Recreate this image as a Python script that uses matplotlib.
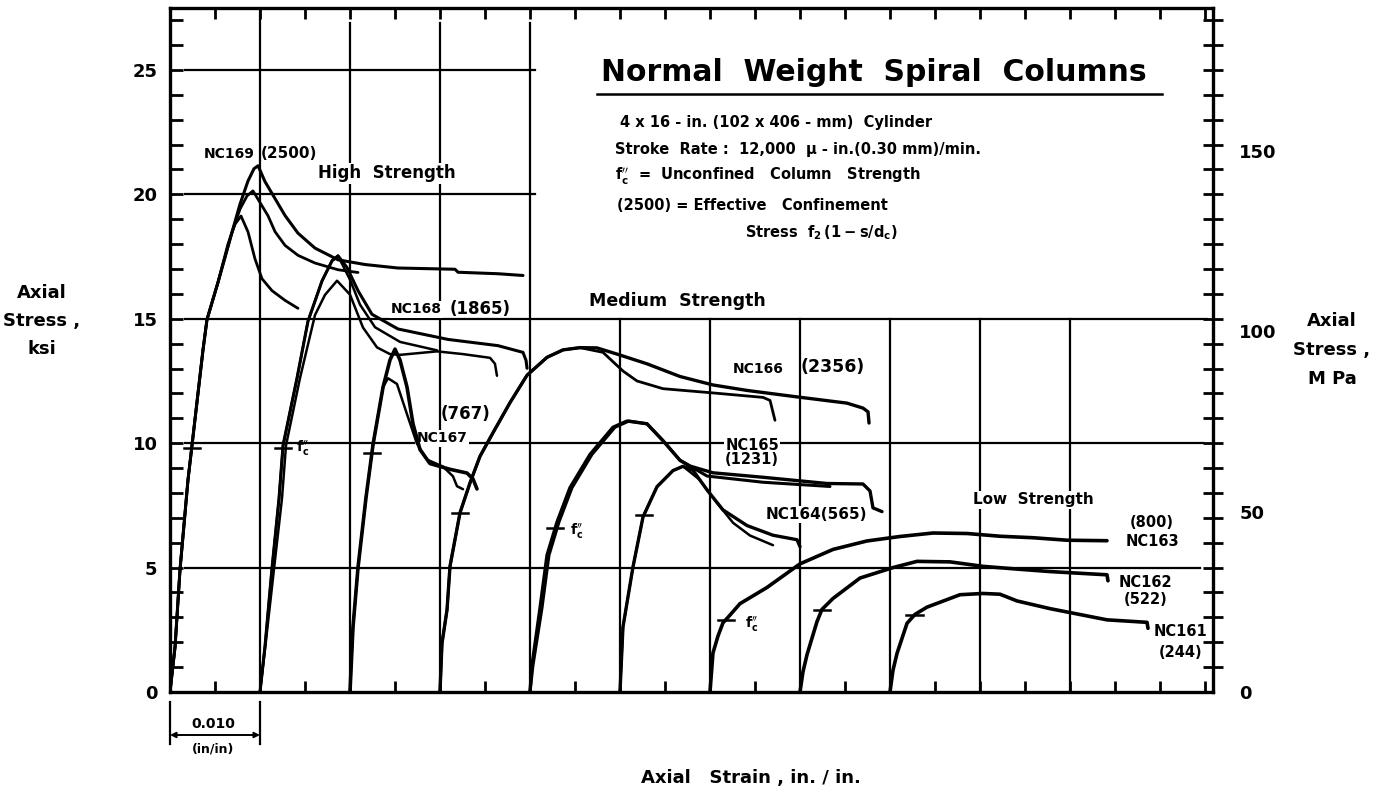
import numpy as np
import matplotlib
matplotlib.use("Agg")
import matplotlib.pyplot as plt
from matplotlib import transforms
from matplotlib.ticker import FixedLocator

plt.rcParams['font.family'] = ['DejaVu Sans']
plt.rcParams['font.weight'] = 'bold'
plt.rcParams['mathtext.fontset'] = 'dejavusans'
plt.rcParams['mathtext.default'] = 'bf'

KSI_TO_MPA = 6.895

# ---------------------------------------------------------------- data
specimens = ["NC169", "NC168", "NC167", "NC166", "NC165",
             "NC164", "NC163", "NC162", "NC161"]
confinement_psi = ["2500", "1865", "767", "2356", "1231",
                   "565", "800", "522", "244"]
# each specimen's curve starts at its own strain origin (in./in.)
origin_strain = [0.000, 0.010, 0.020, 0.030, 0.040, 0.050, 0.060, 0.070, 0.080]
# unconfined column strength f''c (ksi)
fc_ksi = [9.8, 9.8, 9.6, 7.2, 6.6, 7.1, 2.9, 3.3, 3.1]

# stress-strain records: strain from the specimen origin, stress in ksi
nc169_a_strain = [0.0, 0.00056, 0.00111, 0.0020, 0.00244, 0.00367, 0.00411, 0.00533, 0.00689,
                  0.00778, 0.00867, 0.00933, 0.00978, 0.01056, 0.01167, 0.01278, 0.01422,
                  0.01611, 0.01867, 0.02167, 0.02533, 0.03167, 0.0320, 0.03644, 0.03922]
nc169_a_ksi = [0.0, 1.81, 4.91, 8.53, 9.90, 13.76, 14.97, 16.46, 18.48, 19.61, 20.54, 21.03,
               21.15, 20.51, 19.83, 19.15, 18.44, 17.84, 17.37, 17.18, 17.04, 16.99, 16.87,
               16.81, 16.74]
nc169_b_strain = [0.0, 0.00056, 0.00111, 0.0020, 0.00244, 0.00367, 0.00411, 0.00533, 0.00689,
                  0.00778, 0.00856, 0.00922, 0.01022, 0.01089, 0.01167, 0.01278, 0.01422,
                  0.01611, 0.01867, 0.02089]
nc169_b_ksi = [0.0, 1.81, 4.91, 8.53, 9.90, 13.76, 14.97, 16.46, 18.48, 19.41, 19.94, 20.14,
               19.54, 19.14, 18.50, 17.95, 17.55, 17.24, 16.97, 16.86]
nc169_c_strain = [0.0, 0.00056, 0.00111, 0.0020, 0.00244, 0.00367, 0.00411, 0.00533, 0.00644,
                  0.00722, 0.00789, 0.00867, 0.00944, 0.01022, 0.01133, 0.01278, 0.01422]
nc169_c_ksi = [0.0, 1.81, 4.91, 8.53, 9.90, 13.76, 14.97, 16.46, 18.0, 18.8, 19.13, 18.49,
               17.41, 16.61, 16.13, 15.74, 15.42]

nc168_a_strain = [0.0, 0.00056, 0.00133, 0.00211, 0.00256, 0.00411, 0.00533, 0.00689, 0.008,
                  0.00867, 0.00967, 0.01089, 0.01244, 0.01533, 0.02089, 0.02644, 0.02922,
                  0.02956, 0.02967]
nc168_a_ksi = [0.0, 1.86, 4.96, 7.77, 9.91, 12.61, 14.90, 16.52, 17.33, 17.53, 17.06, 16.13,
               15.18, 14.59, 14.17, 13.92, 13.65, 13.33, 13.01]
nc168_b_strain = [0.0, 0.00056, 0.00133, 0.00211, 0.00256, 0.00411, 0.00533, 0.00689, 0.008,
                  0.00867, 0.01, 0.01111, 0.01278, 0.01556, 0.01967]
nc168_b_ksi = [0.0, 1.86, 4.96, 7.77, 9.91, 12.61, 14.90, 16.52, 17.33, 17.53, 16.57, 15.57,
               14.66, 14.07, 13.73]
nc168_c_strain = [0.0, 0.0006, 0.00156, 0.00244, 0.00289, 0.00444, 0.00611, 0.00722, 0.00856,
                  0.01, 0.01144, 0.013, 0.01444, 0.01556, 0.01967, 0.02256, 0.02556, 0.02611,
                  0.02633]
nc168_c_ksi = [0.0, 1.86, 4.96, 7.77, 9.91, 12.61, 15.15, 15.96, 16.53, 15.97, 14.65, 13.85,
               13.58, 13.55, 13.69, 13.58, 13.43, 13.19, 12.71]

nc167_a_strain = [0.0, 0.00033, 0.00089, 0.00178, 0.00256, 0.00367, 0.00444, 0.005, 0.00556,
                  0.00633, 0.007, 0.00778, 0.00889, 0.01111, 0.013, 0.01367, 0.01411]
nc167_a_ksi = [0.0, 2.59, 5.0, 7.82, 9.95, 12.25, 13.34, 13.78, 13.34, 12.26, 10.78, 9.74,
               9.18, 8.95, 8.80, 8.56, 8.16]
nc167_b_strain = [0.0, 0.00033, 0.00089, 0.00178, 0.00256, 0.00367, 0.00422, 0.00522, 0.00633,
                  0.00744, 0.00856, 0.01033, 0.01144, 0.01189, 0.01256]
nc167_b_ksi = [0.0, 2.59, 5.0, 7.82, 9.95, 12.25, 12.61, 12.38, 11.17, 9.98, 9.34, 9.06,
               8.67, 8.27, 8.15]

nc166_a_strain = [0.0, 0.00022, 0.00078, 0.00111, 0.00222, 0.00333, 0.00444, 0.00589, 0.00778,
                  0.00967, 0.01189, 0.01367, 0.01556, 0.01744, 0.01967, 0.023, 0.02667,
                  0.03033, 0.03411, 0.03967, 0.04522, 0.047, 0.04756, 0.04767]
nc166_a_ksi = [0.0, 1.95, 3.3, 5.05, 7.2, 8.4, 9.47, 10.42, 11.63, 12.73, 13.45, 13.75, 13.84,
               13.83, 13.58, 13.19, 12.68, 12.34, 12.12, 11.86, 11.61, 11.41, 11.26, 10.81]
nc166_b_strain = [0.0, 0.00022, 0.00078, 0.00111, 0.00222, 0.00333, 0.00444, 0.00589, 0.00778,
                  0.00967, 0.01189, 0.01367, 0.01556, 0.01811, 0.02033, 0.02189, 0.02478,
                  0.03033, 0.03589, 0.03667, 0.037, 0.03722]
nc166_b_ksi = [0.0, 1.95, 3.3, 5.05, 7.2, 8.4, 9.47, 10.42, 11.63, 12.73, 13.45, 13.75, 13.84,
               13.65, 12.9, 12.5, 12.19, 12.02, 11.84, 11.72, 11.24, 10.92]

nc165_a_strain = [0.0, 0.00022, 0.00111, 0.00189, 0.003, 0.00444, 0.00667, 0.00922, 0.01078,
                  0.013, 0.01478, 0.01667, 0.01778, 0.02033, 0.02589, 0.033, 0.037, 0.03778,
                  0.03811, 0.03911]
nc165_a_ksi = [0.0, 1.07, 3.37, 5.5, 6.83, 8.21, 9.55, 10.64, 10.89, 10.78, 10.1, 9.31, 9.08,
               8.81, 8.63, 8.38, 8.36, 8.08, 7.40, 7.25]
nc165_b_strain = [0.0, 0.00033, 0.00133, 0.00211, 0.00322, 0.00467, 0.00689, 0.00944, 0.011,
                  0.013, 0.01478, 0.01667, 0.01778, 0.01967, 0.02589, 0.03333]
nc165_b_ksi = [0.0, 1.07, 3.37, 5.5, 6.83, 8.21, 9.55, 10.64, 10.89, 10.78, 10.1, 9.31, 9.08,
               8.68, 8.43, 8.26]

nc164_a_strain = [0.0, 0.00033, 0.00144, 0.00256, 0.00411, 0.00589, 0.007, 0.00811, 0.00967,
                  0.01144, 0.01411, 0.017, 0.01967, 0.02]
nc164_a_ksi = [0.0, 2.61, 5.02, 7.04, 8.25, 8.9, 9.07, 8.91, 8.12, 7.32, 6.69, 6.30, 6.12, 5.84]
nc164_b_strain = [0.0, 0.00033, 0.00144, 0.00256, 0.00411, 0.00589, 0.007, 0.00889, 0.01078,
                  0.01256, 0.01444, 0.017]
nc164_b_ksi = [0.0, 2.61, 5.02, 7.04, 8.25, 8.9, 9.07, 8.52, 7.6, 6.8, 6.29, 5.9]

nc163_strain = [0.0, 0.00033, 0.00089, 0.00144, 0.002, 0.00333, 0.00633, 0.01, 0.01367,
                0.01744, 0.02111, 0.02478, 0.02856, 0.03222, 0.03589, 0.03967, 0.04411]
nc163_ksi = [0.0, 1.57, 2.25, 2.78, 3.0, 3.55, 4.2, 5.15, 5.73, 6.07, 6.25, 6.39, 6.37, 6.26,
             6.2, 6.1, 6.08]

nc162_strain = [0.0, 0.00033, 0.00078, 0.00189, 0.00244, 0.00367, 0.00667, 0.01033, 0.013,
                0.01667, 0.02033, 0.02411, 0.02778, 0.03411, 0.03422]
nc162_ksi = [0.0, 0.81, 1.5, 2.83, 3.32, 3.76, 4.58, 5.0, 5.25, 5.23, 5.05, 4.94, 4.84, 4.71,
             4.47]

nc161_strain = [0.0, 0.00033, 0.00078, 0.00189, 0.00278, 0.00411, 0.00778, 0.01033, 0.01222,
                0.01411, 0.01778, 0.02144, 0.02411, 0.02856, 0.02867]
nc161_ksi = [0.0, 0.87, 1.55, 2.76, 3.12, 3.41, 3.91, 3.96, 3.93, 3.66, 3.35, 3.09, 2.9, 2.8,
             2.56]

# (specimen index, strain, stress, line width) for every plotted record
curves = [
    (0, nc169_a_strain, nc169_a_ksi, 2.2), (0, nc169_b_strain, nc169_b_ksi, 2.0),
    (0, nc169_c_strain, nc169_c_ksi, 2.0),
    (1, nc168_a_strain, nc168_a_ksi, 2.2), (1, nc168_b_strain, nc168_b_ksi, 1.8),
    (1, nc168_c_strain, nc168_c_ksi, 1.8),
    (2, nc167_a_strain, nc167_a_ksi, 2.6), (2, nc167_b_strain, nc167_b_ksi, 1.8),
    (3, nc166_a_strain, nc166_a_ksi, 2.4), (3, nc166_b_strain, nc166_b_ksi, 2.0),
    (4, nc165_a_strain, nc165_a_ksi, 2.4), (4, nc165_b_strain, nc165_b_ksi, 2.2),
    (5, nc164_a_strain, nc164_a_ksi, 2.4), (5, nc164_b_strain, nc164_b_ksi, 1.8),
    (6, nc163_strain, nc163_ksi, 2.6),
    (7, nc162_strain, nc162_ksi, 2.6),
    (8, nc161_strain, nc161_ksi, 2.6),
]

# ---------------------------------------------------------------- figure
W, H = 1395, 795
fig = plt.figure(figsize=(W / 100, H / 100), dpi=100)
ax = fig.add_axes([170 / W, 1 - 692 / H, 1043 / W, 684 / H])

X_MAX = 0.11589
Y_MAX = 27.49
ax.set_xlim(0, X_MAX)
ax.set_ylim(0, Y_MAX)

for sp in ax.spines.values():
    sp.set_linewidth(2.4)

# frame ticks
ax.set_xticks(np.arange(0.005, X_MAX, 0.005))
ax.tick_params(axis='x', which='both', top=True, bottom=True, direction='in',
               length=8, width=2, labelbottom=False)
ax.set_yticks(np.arange(0, 26, 5))
ax.yaxis.set_minor_locator(FixedLocator(np.arange(0, 28, 1)))
ax.tick_params(axis='y', which='both', direction='in', length=9, width=2,
               labelsize=13, pad=9)

# right-hand scale in MPa
ax2 = ax.twinx()
ax2.set_ylim(0, Y_MAX * KSI_TO_MPA)
ax2.set_yticks([0, 50, 100, 150])
ax2.yaxis.set_minor_locator(FixedLocator(np.arange(0, 28, 1) * KSI_TO_MPA))
ax2.tick_params(axis='y', which='major', length=0, labelsize=13, pad=19)
ax2.tick_params(axis='y', which='minor', direction='inout', length=14, width=2)
for sp in ax2.spines.values():
    sp.set_visible(False)

# reference grid
grid_kw = dict(color='black', lw=1.6, zorder=1)
for level, x_end in [(25, 0.0406), (20, 0.0406), (15, 0.1152), (10, 0.1148), (5, 0.1144)]:
    ax.plot([0.0017, x_end], [level, level], **grid_kw)
for xv in [0.01, 0.02, 0.03, 0.04]:
    ax.plot([xv, xv], [0, 26.9 if xv > 0.01 else Y_MAX], **grid_kw)
for xv in [0.05, 0.06, 0.07, 0.08, 0.09, 0.10]:
    ax.plot([xv, xv], [0, 15], **grid_kw)

# stress-strain curves
for spec, s, k, lw in curves:
    ax.plot(np.asarray(s) + origin_strain[spec], k, color='black', lw=lw,
            solid_capstyle='round', solid_joinstyle='round', zorder=4)

# f''c marks on the ascending branches
first_curve = {}
for spec, s, k, lw in curves:
    first_curve.setdefault(spec, (np.asarray(s), np.asarray(k)))
for i, fc in enumerate(fc_ksi):
    s, k = first_curve[i]
    peak = int(np.argmax(k))
    xc = np.interp(fc, k[:peak + 1], s[:peak + 1]) + origin_strain[i]
    ax.plot([xc - 0.0009, xc + 0.0009], [fc, fc], color='black', lw=1.8, zorder=4)

fc_sym = r"$f_c^{\prime\prime}$"
for xs, ys in [(0.01478, 9.8), (0.04522, 6.44), (0.06467, 2.72)]:
    ax.text(xs, ys, fc_sym, fontsize=10, ha='center', va='center', zorder=5)

# curve labels
white = dict(facecolor='white', edgecolor='none', pad=1.0)
lab = dict(fontsize=10, fontweight='bold', ha='center', va='center', zorder=3)
ax.text(0.00944, 21.63, specimens[0], **{**lab, 'ha': 'right'})
ax.text(0.01011, 21.63, f"({confinement_psi[0]})", **{**lab, 'ha': 'left', 'fontsize': 11})
ax.text(0.0302, 15.38, specimens[1], bbox=white, **{**lab, 'ha': 'right'})
ax.text(0.0311, 15.38, f"({confinement_psi[1]})", **{**lab, 'ha': 'left', 'fontsize': 12})
ax.text(0.03278, 11.17, f"({confinement_psi[2]})", **{**lab, 'fontsize': 12})
ax.text(0.03022, 10.19, specimens[2], bbox=white, **lab)
ax.text(0.06533, 13.0, specimens[3], **lab)
ax.text(0.07367, 13.05, f"({confinement_psi[3]})", **{**lab, 'fontsize': 12.5})
ax.text(0.06467, 9.62, f"{specimens[4]}\n({confinement_psi[4]})", bbox=white,
        linespacing=0.95, **{**lab, 'fontsize': 10.5})
ax.text(0.07178, 7.13, f"{specimens[5]}({confinement_psi[5]})", bbox=white,
        **{**lab, 'fontsize': 11})
ax.text(0.10911, 6.43, f"({confinement_psi[6]})\n{specimens[6]}", linespacing=1.3,
        **{**lab, 'fontsize': 10.5})
ax.text(0.1084, 4.05, f"{specimens[7]}\n({confinement_psi[7]})", linespacing=1.2,
        **{**lab, 'fontsize': 10.5})
ax.text(0.11233, 2.02, f"{specimens[8]}\n({confinement_psi[8]})", linespacing=1.5,
        **{**lab, 'fontsize': 10.5})

grp = dict(fontweight='bold', ha='center', va='center', zorder=3)
ax.text(0.02411, 20.85, "High  Strength", bbox=white, fontsize=12, **grp)
ax.text(0.05633, 15.7, "Medium  Strength", fontsize=12.5, **grp)
ax.text(0.09589, 7.73, "Low  Strength", bbox=white, fontsize=11, **grp)

# descriptive block
ax.text(0.0782, 24.9, "Normal  Weight  Spiral  Columns", fontsize=21.5, fontweight='bold',
        ha='center', va='center')
ax.plot([0.0474, 0.1102], [24.05, 24.05], color='black', lw=1.8)
box = dict(fontsize=10.5, fontweight='bold', ha='left', va='center')
ax.text(0.0500, 22.9, "4 x 16 - in. (102 x 406 - mm)  Cylinder", **box)
ax.text(0.0494, 21.82, "Stroke  Rate :  12,000  \u03bc - in.(0.30 mm)/min.", **box)
ax.text(0.0494, 20.70, fc_sym + "  =  Unconfined   Column   Strength", **box)
ax.text(0.0497, 19.57, "(2500) = Effective   Confinement", **box)
ax.text(0.0639, 18.47, r"Stress  $f_2\,(1-s/d_c)$", **box)

# axis titles
fig.text(42 / W, 1 - 321 / H, "Axial\nStress ,\nksi", fontsize=13, fontweight='bold',
         ha='center', va='center', linespacing=1.75)
fig.text(1332 / W, 1 - 350 / H, "Axial\nStress ,\nM Pa", fontsize=13, fontweight='bold',
         ha='center', va='center', linespacing=1.75)
fig.text(751 / W, 1 - 778 / H, "Axial   Strain , in. / in.", fontsize=13,
         fontweight='bold', ha='center', va='center')

# strain scale bar under the axis
blend = transforms.blended_transform_factory(ax.transData, fig.transFigure)
for xv in [0.0, 0.010]:
    ax.plot([xv, xv], [1 - 702 / H, 1 - 744 / H], transform=blend, color='black',
            lw=1.6, clip_on=False)
ax.annotate("", xy=(0.0, 1 - 735 / H), xytext=(0.010, 1 - 735 / H),
            xycoords=blend, textcoords=blend,
            arrowprops=dict(arrowstyle='<|-|>', color='black', lw=1.4,
                            mutation_scale=8, shrinkA=0, shrinkB=0))
ax.text(0.0048, 1 - 724 / H, "0.010", transform=blend, fontsize=10, ha='center',
        va='center', fontweight='bold')
ax.text(0.0048, 1 - 749 / H, "(in/in)", transform=blend, fontsize=9, ha='center',
        va='center', fontweight='bold')

fig.savefig("out.png", dpi=100, facecolor='white')
